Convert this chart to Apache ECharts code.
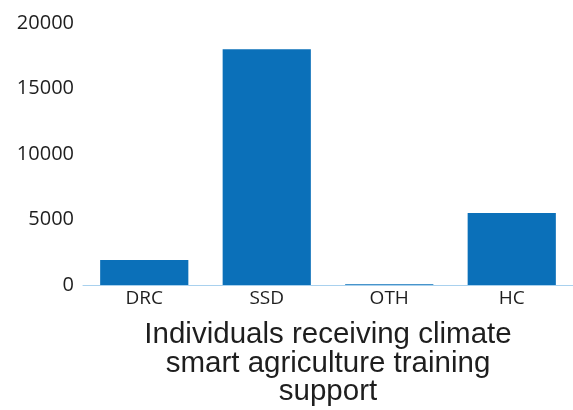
<!DOCTYPE html>
<html><head><meta charset="utf-8">
<script src="https://cdn.jsdelivr.net/npm/echarts@6/dist/echarts.min.js"></script>
<style>html,body{margin:0;padding:0;background:#fff}#c{width:573px;height:410px}</style>
</head><body><div id="c"></div>
<script>
const categories = ["DRC", "SSD", "OTH", "HC"];
const values = [1900, 18000, 50, 5500];
const yTicks = [0, 5000, 10000, 15000, 20000];
const axisTitle = "Individuals receiving climate\nsmart agriculture training\nsupport";

const chart = echarts.init(document.getElementById('c'));
chart.setOption({
  animation: false,
  grid: {left: 83, right: 0, top: 23, bottom: 125, outerBoundsMode: 'none'},
  xAxis: {
    type: 'category', data: categories,
    axisLine: {lineStyle: {color: '#a9d1ee', width: 1}},
    axisTick: {show: false},
    axisLabel: {color: '#1e1e1e', fontFamily: 'Open Sans', fontSize: 19, margin: 4},
    name: axisTitle, nameLocation: 'middle', nameGap: 36,
    nameTextStyle: {color: '#1e1e1e', fontFamily: 'Liberation Sans', fontSize: 29.5, lineHeight: 28.5}
  },
  yAxis: {
    type: 'value', min: yTicks[0], max: yTicks[yTicks.length-1], interval: 5000,
    axisLine: {show: false}, axisTick: {show: false}, splitLine: {show: false},
    axisLabel: {color: '#1e1e1e', fontFamily: 'Open Sans', fontSize: 20, margin: 9,
      formatter: v => String(v)}
  },
  series: [{
    type: 'bar', data: values, barCategoryGap: '28%',
    itemStyle: {color: '#0b70b9'}
  }]
});
</script></body></html>
